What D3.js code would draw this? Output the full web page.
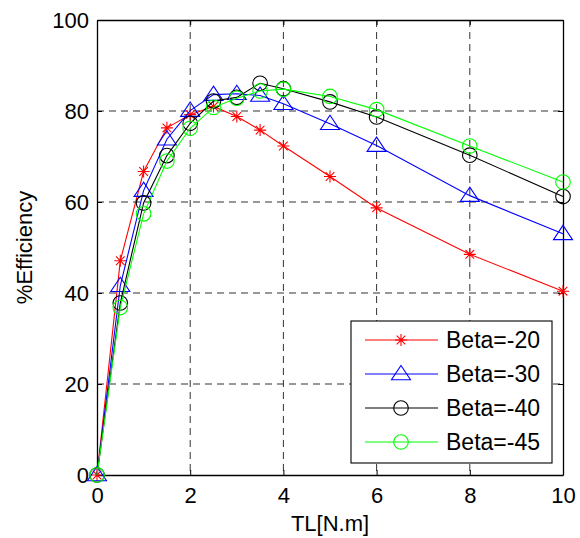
<!DOCTYPE html>
<html>
<head>
<meta charset="utf-8">
<script src="https://cdn.jsdelivr.net/npm/d3@7"></script>
<style>
  body { margin: 0; background: #fff; }
  svg text { font-family: "Liberation Sans", Arial, sans-serif; }
</style>
</head>
<body>
<div id="chart"></div>
<script>
// Data
const torque = [0, 0.5, 1, 1.5, 2, 2.5, 3, 3.5, 4, 5, 6, 8, 10];
const beta20 = [0, 47.1, 66.7, 76.3, 79.2, 81.0, 78.8, 75.8, 72.3, 65.6, 58.7, 48.5, 40.4];
const beta30 = [0, 41.6, 62.5, 73.8, 80.1, 83.6, 83.8, 83.4, 81.6, 77.2, 72.4, 61.4, 53.0];
const beta40 = [0, 37.8, 59.8, 70.2, 77.3, 82.2, 83.0, 86.1, 84.9, 82.0, 78.7, 70.3, 61.2];
const beta45 = [0, 36.8, 57.4, 69.0, 76.2, 80.8, 82.8, 84.4, 84.8, 83.2, 80.3, 72.3, 64.4];
const seriesNames = ["Beta=-20", "Beta=-30", "Beta=-40", "Beta=-45"];
const xTicks = [0, 2, 4, 6, 8, 10];
const yTicks = [0, 20, 40, 60, 80, 100];

const series = [
  { name: seriesNames[0], values: beta20, color: "#ff0000", marker: "star" },
  { name: seriesNames[1], values: beta30, color: "#0000ff", marker: "triangle" },
  { name: seriesNames[2], values: beta40, color: "#000000", marker: "circle" },
  { name: seriesNames[3], values: beta45, color: "#00ff00", marker: "circle" },
];

const W = 580, H = 538;
const margin = { top: 20, right: 17, bottom: 63, left: 97 };
const width = W - margin.left - margin.right;
const height = H - margin.top - margin.bottom;

const svg = d3.select("#chart").append("svg")
  .attr("width", W).attr("height", H);

const g = svg.append("g")
  .attr("transform", `translate(${margin.left},${margin.top})`);

const x = d3.scaleLinear().domain([0, 10]).range([0, width]);
const y = d3.scaleLinear().domain([0, 100]).range([height, 0]);

// Grid
g.append("g").selectAll("line")
  .data(xTicks.slice(1, -1))
  .join("line")
  .attr("x1", (d) => x(d)).attr("x2", (d) => x(d))
  .attr("y1", 0).attr("y2", height)
  .attr("stroke", "#333").attr("stroke-width", 1)
  .attr("stroke-dasharray", "7,5");

g.append("g").selectAll("line")
  .data(yTicks.slice(1, -1))
  .join("line")
  .attr("y1", (d) => y(d)).attr("y2", (d) => y(d))
  .attr("x1", 0).attr("x2", width)
  .attr("stroke", "#333").attr("stroke-width", 1)
  .attr("stroke-dasharray", "7,5");

// Axes (ticks inside, box on)
const fontSize = "22px";
const axBottom = g.append("g")
  .attr("transform", `translate(0,${height})`)
  .call(d3.axisBottom(x).tickValues(xTicks).tickSizeInner(-5).tickSizeOuter(0).tickPadding(12));
const axTop = g.append("g")
  .call(d3.axisTop(x).tickValues(xTicks).tickSizeInner(-5).tickSizeOuter(0).tickFormat(""));
const axLeft = g.append("g")
  .call(d3.axisLeft(y).tickValues(yTicks).tickSizeInner(-5).tickSizeOuter(0).tickPadding(8));
const axRight = g.append("g")
  .attr("transform", `translate(${width},0)`)
  .call(d3.axisRight(y).tickValues(yTicks).tickSizeInner(-5).tickSizeOuter(0).tickFormat(""));

[axBottom, axTop, axLeft, axRight].forEach((a) => {
  a.select(".domain").attr("stroke", "#000").attr("stroke-width", 1.3);
  a.selectAll(".tick line").attr("stroke", "#000");
  a.selectAll("text").style("font-size", fontSize).attr("fill", "#000");
});

// Lines and markers
const line = d3.line()
  .x((d, i) => x(torque[i]))
  .y((d) => y(d));

function drawMarker(sel, type, color) {
  if (type === "star") {
    const r = 6;
    const p = d3.path();
    p.moveTo(-r, 0); p.lineTo(r, 0);
    p.moveTo(0, -r); p.lineTo(0, r);
    const k = r * 0.72;
    p.moveTo(-k, -k); p.lineTo(k, k);
    p.moveTo(-k, k); p.lineTo(k, -k);
    sel.append("path").attr("d", p.toString())
      .attr("stroke", color).attr("stroke-width", 1.1).attr("fill", "none");
  } else if (type === "triangle") {
    const r = 8.5;
    sel.append("path")
      .attr("d", `M0,${-r}L${r * 1.12},${r * 0.68}L${-r * 1.12},${r * 0.68}Z`)
      .attr("stroke", color).attr("stroke-width", 1.1).attr("fill", "none");
  } else {
    sel.append("circle").attr("r", 7.3)
      .attr("stroke", color).attr("stroke-width", 1.1).attr("fill", "none");
  }
}

series.forEach((s) => {
  g.append("path")
    .datum(s.values)
    .attr("d", line)
    .attr("fill", "none")
    .attr("stroke", s.color)
    .attr("stroke-width", 1.1);

  g.append("g").selectAll("g")
    .data(s.values)
    .join("g")
    .attr("transform", (d, i) => `translate(${x(torque[i])},${y(d)})`)
    .each(function () { drawMarker(d3.select(this), s.marker, s.color); });
});

// Legend
const legend = g.append("g")
  .attr("transform", `translate(${351 - margin.left},${321 - margin.top})`);

legend.append("rect")
  .attr("width", 201).attr("height", 142)
  .attr("fill", "#fff").attr("stroke", "#000").attr("stroke-width", 1.1);

series.forEach((s, i) => {
  const row = legend.append("g")
    .attr("transform", `translate(0,${19 + i * 34})`);
  row.append("line")
    .attr("x1", 14).attr("x2", 87)
    .attr("stroke", s.color).attr("stroke-width", 1.1);
  const m = row.append("g").attr("transform", "translate(50,0)");
  drawMarker(m, s.marker, s.color);
  row.append("text")
    .attr("x", 95).attr("y", 0).attr("dy", "0.35em")
    .style("font-size", "23px")
    .text(s.name);
});

// Axis labels
svg.append("text")
  .attr("x", margin.left + width / 2)
  .attr("y", 531)
  .attr("text-anchor", "middle")
  .style("font-size", fontSize)
  .text("TL[N.m]");

svg.append("text")
  .attr("transform", `translate(32,${margin.top + height / 2}) rotate(-90)`)
  .attr("text-anchor", "middle")
  .style("font-size", fontSize)
  .text("%Efficiency");
</script>
</body>
</html>
